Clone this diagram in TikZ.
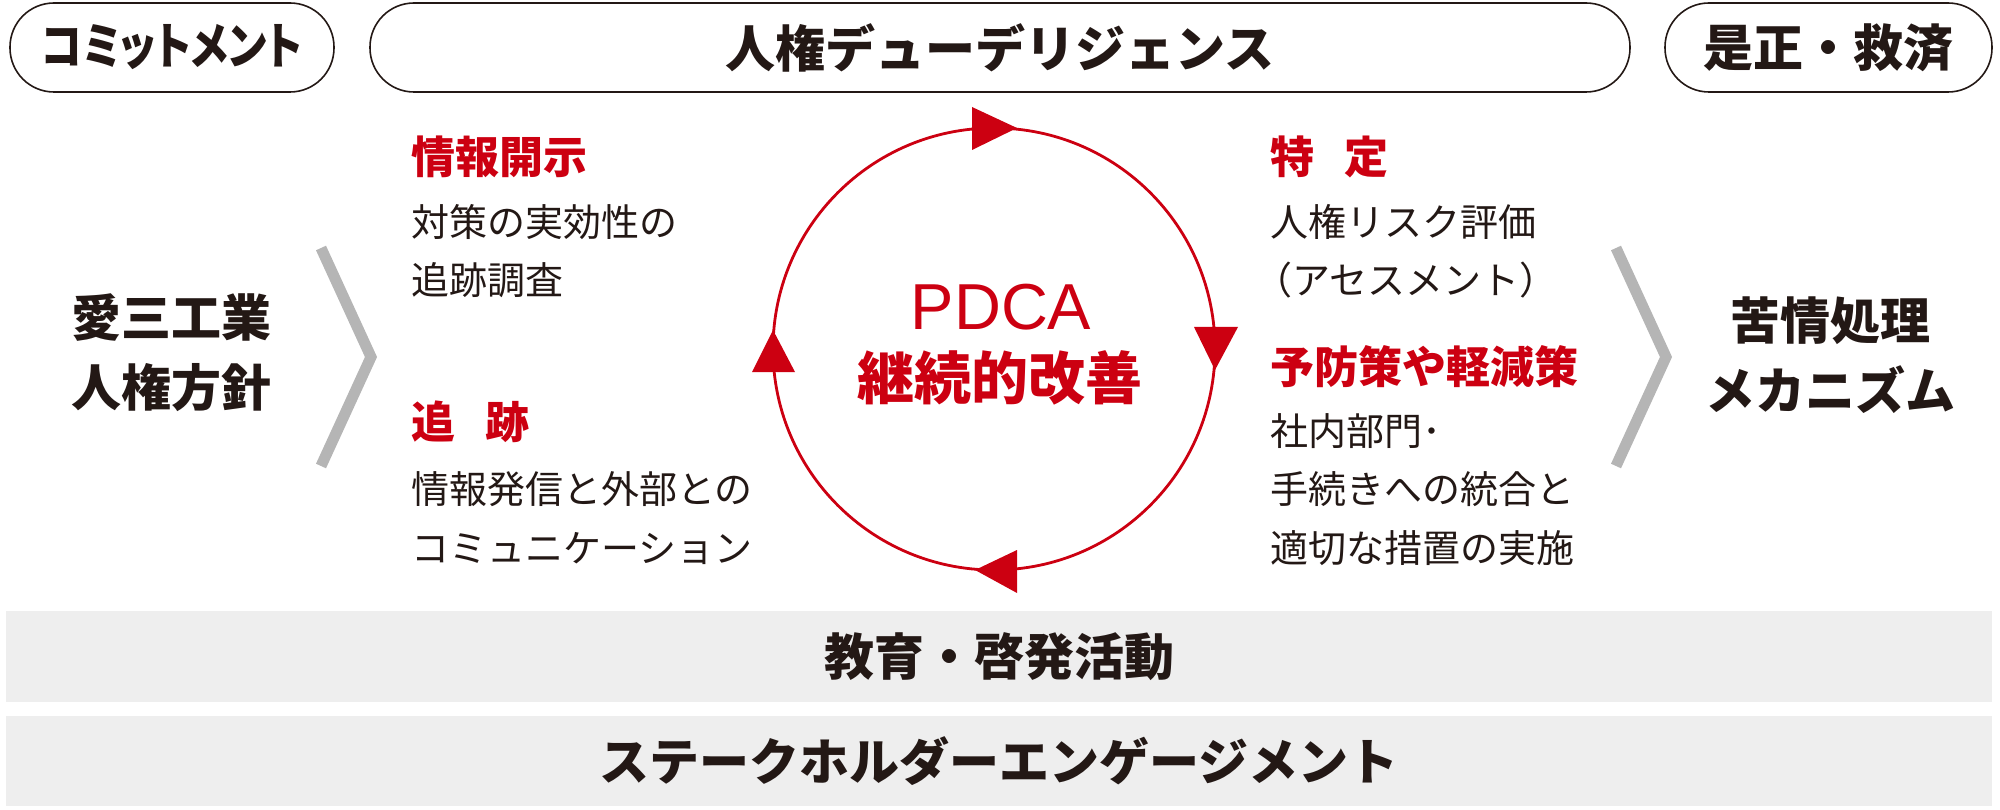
\documentclass[tikz,border=0pt]{standalone}
\usepackage{fontspec}
\setmainfont{Noto Sans CJK JP}
\newfontfamily\paltfont{Noto Sans CJK JP}[RawFeature=+palt]
\newfontfamily\latinsans{Liberation Sans}
\definecolor{pdcared}{HTML}{CC0011}
\definecolor{ink}{HTML}{231815}
\definecolor{chevgray}{HTML}{B5B5B5}
\definecolor{barfill}{HTML}{EEEEEE}
\begin{document}
\begin{tikzpicture}[x=1pt,y=-1pt,
  topbox/.style={draw=ink, line width=1.6pt, rounded corners=44pt, inner sep=0pt,
    text=ink, font=\fontsize{50}{60}\selectfont\bfseries},
  bar/.style={fill=barfill, draw=none, inner sep=0pt, minimum width=1986pt,
    text=ink, font=\fontsize{50}{60}\selectfont\bfseries},
  head/.style={font=\fontsize{44}{59}\selectfont\bfseries, text=pdcared, inner sep=0pt, anchor=base west},
  body/.style={font=\fontsize{38}{58.5}\selectfont, text=ink, inner sep=0pt, anchor=base west, align=left},
  side/.style={font=\fontsize{50}{70}\selectfont\bfseries, text=ink, inner sep=0pt, align=center},
  chev/.style={draw=chevgray, line width=11pt, miter limit=10},
  cyc/.style={draw=pdcared, line width=2.8pt},
  tri/.style={fill=pdcared, draw=none},
]
\useasboundingbox (0,0) rectangle (2000,810);

% top boxes
\node[topbox, minimum width=324pt, minimum height=89pt] (commit) at (172,47.5) {\scalebox{0.84}[1]{\paltfont\bfseries コミットメント}};
\node[topbox, minimum width=1260pt, minimum height=89pt] (hrdd) at (1000,47.5) {人権デューデリジェンス};
\node[topbox, minimum width=327pt, minimum height=89pt] (remedy) at (1828.5,47.5) {是正・救済};

% side texts
\node[side] (policy) at (171,353) {愛三工業\\人権方針};
\node[side] (grievance) at (1830,355) {苦情処理\\メカニズム};

% chevrons
\draw[chev] (321,248) -- (371,357) -- (321,466);
\draw[chev] (1616,248) -- (1666,357) -- (1616,466);

% PDCA cycle
\draw[cyc] (994,349) circle[radius=221];
\fill[tri] (972,107) -- (972,150) -- (1017,128) -- cycle;
\fill[tri] (1194,327) -- (1238,327) -- (1215,370) -- cycle;
\fill[tri] (1017,550) -- (1017,593) -- (975,570) -- cycle;
\fill[tri] (752,372) -- (795,372) -- (773,330) -- cycle;
\node[text=pdcared, inner sep=0pt, anchor=base, font=\fontsize{65}{70}\selectfont\latinsans] (pdca) at (1001,330) {PDCA};
\node[text=pdcared, inner sep=0pt, font=\fontsize{57}{65}\selectfont\bfseries] (kaizen) at (1000,378) {継続的改善};

% left column (body nodes: anchor at baseline of last line)
\node[head] (disclose) at (411,174) {情報開示};
\node[body] (disclosebody) at (411,295) {対策の実効性の\\追跡調査};
\node[head] (track) at (411,438) {追\hspace{0.7em}跡};
\node[body] (trackbody) at (411,562) {情報発信と外部との\\コミュニケーション};

% right column
\node[head] (identify) at (1270,174) {特\hspace{0.7em}定};
\node[body] (identifybody) at (1270,295) {人権リスク評価\\\kern-0.42em（アセスメント）};
\node[head] (prevent) at (1270,383) {予防策や軽減策};
\node[body] (preventbody) at (1270,562) {社内部門･\\手続きへの統合と\\適切な措置の実施};

% bottom bars
\node[bar, minimum height=91pt] (edu) at (999,656.5) {教育・啓発活動};
\node[bar, minimum height=90pt] (stake) at (999,761) {ステークホルダーエンゲージメント};
\end{tikzpicture}
\end{document}
